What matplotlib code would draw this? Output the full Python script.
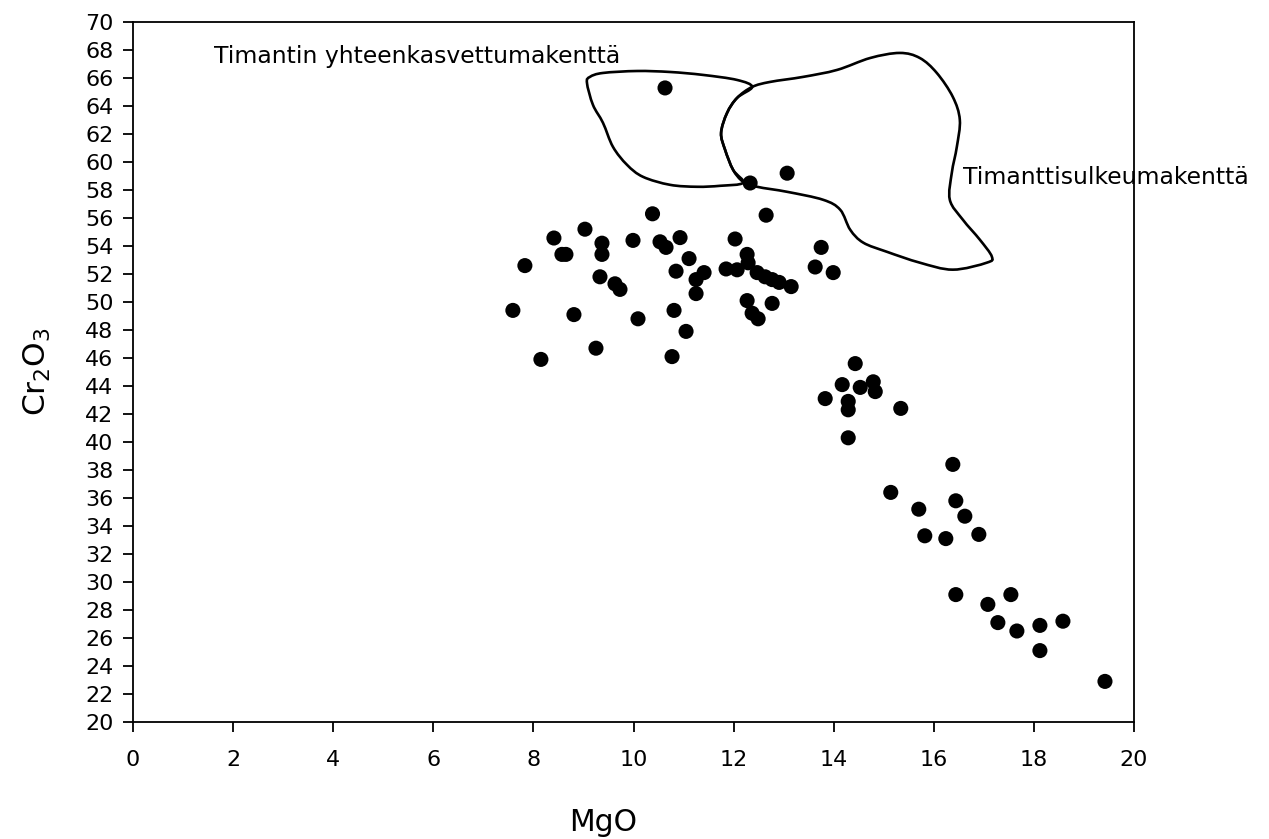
import matplotlib
matplotlib.use("Agg")
import matplotlib.pyplot as plt
from matplotlib.patches import PathPatch
from matplotlib.path import Path

# ---- data (MgO, Cr2O3) ----
mgo = [10.63, 13.07, 12.33, 10.38, 12.65,
       8.41, 9.03, 9.37, 9.37, 8.57, 8.65, 7.83, 9.99, 10.53, 10.65, 10.93,
       12.03, 11.11, 10.85, 11.41, 11.25, 11.25, 11.85, 12.07, 12.27, 12.29,
       12.47, 12.63, 12.77, 12.91, 13.15, 9.33, 9.63, 9.73, 7.59, 8.81,
       10.09, 10.81, 11.05, 8.15, 9.25, 10.77, 12.27, 12.37, 12.49, 12.77,
       13.75, 13.63, 13.99,
       14.43, 14.17, 14.53, 14.79, 14.83, 13.83, 14.29, 14.29, 15.34, 14.29,
       16.38, 15.14, 16.44, 15.70, 16.62, 15.82, 16.24, 16.90, 16.44, 17.54,
       17.08, 17.28, 17.66, 18.12, 18.58, 18.12, 19.42]
cr2o3 = [65.29, 59.2, 58.5, 56.3, 56.2,
         54.57, 55.2, 54.2, 53.4, 53.4, 53.4, 52.6, 54.4, 54.3, 53.9, 54.6,
         54.5, 53.1, 52.2, 52.1, 51.6, 50.6, 52.36, 52.3, 53.4, 52.8,
         52.1, 51.8, 51.6, 51.4, 51.1, 51.8, 51.3, 50.9, 49.4, 49.1,
         48.8, 49.4, 47.9, 45.9, 46.7, 46.1, 50.1, 49.2, 48.8, 49.9,
         53.9, 52.5, 52.1,
         45.6, 44.1, 43.9, 44.3, 43.6, 43.1, 42.9, 42.3, 42.4, 40.3,
         38.4, 36.4, 35.8, 35.2, 34.7, 33.3, 33.1, 33.4, 29.1, 29.1,
         28.4, 27.1, 26.5, 26.9, 27.2, 25.1, 22.9]

# field outlines (MgO, Cr2O3)
field1_mgo = [9.07, 9.13, 9.39, 10.07, 10.73, 11.39, 12.07, 12.37, 12.07, 11.87,
              11.75, 11.83, 11.99, 12.19, 11.73, 11.27, 10.73, 10.19, 9.87, 9.59,
              9.39, 9.19]
field1_cr = [65.65, 66.08, 66.36, 66.50, 66.43, 66.22, 65.86, 65.36, 64.58, 63.51,
             62.08, 60.87, 59.44, 58.52, 58.30, 58.23, 58.37, 58.94, 59.80, 61.08,
             62.80, 64.08]
field2_mgo = [12.37, 12.73, 13.39, 14.07, 14.73, 15.32, 15.72, 16.06, 16.38, 16.52,
              16.46, 16.36, 16.32, 16.58, 16.92, 17.16, 17.06, 16.38, 15.72, 15.06,
              14.59, 14.33, 14.13, 13.79, 13.07, 12.47, 12.19, 11.99, 11.83, 11.75,
              11.87, 12.07]
field2_cr = [65.36, 65.72, 66.08, 66.58, 67.43, 67.79, 67.43, 66.36, 64.65, 63.01,
             61.08, 59.23, 57.30, 55.88, 54.45, 53.24, 52.81, 52.31, 52.81, 53.59,
             54.24, 55.16, 56.59, 57.30, 57.87, 58.23, 58.59, 59.44, 60.87, 62.08,
             63.51, 64.58]

label1 = "Timantin yhteenkasvettumakenttä"
label2 = "Timanttisulkeumakenttä"
xticks = list(range(0, 21, 2))
yticks = list(range(20, 71, 2))


def smooth_closed_path(xs, ys, t=0.5):
    """Closed Catmull-Rom outline drawn as cubic Bezier segments."""
    n = len(xs)
    verts = [(xs[0], ys[0])]
    codes = [Path.MOVETO]
    for i in range(n):
        p0 = (xs[i - 1], ys[i - 1])
        p1 = (xs[i], ys[i])
        p2 = (xs[(i + 1) % n], ys[(i + 1) % n])
        p3 = (xs[(i + 2) % n], ys[(i + 2) % n])
        c1 = (p1[0] + (p2[0] - p0[0]) * t / 3, p1[1] + (p2[1] - p0[1]) * t / 3)
        c2 = (p2[0] - (p3[0] - p1[0]) * t / 3, p2[1] - (p3[1] - p1[1]) * t / 3)
        verts += [c1, c2, p2]
        codes += [Path.CURVE4] * 3
    return Path(verts, codes)


plt.rcParams['font.family'] = ['DejaVu Sans']
fig = plt.figure(figsize=(12.69, 8.39), dpi=100)
ax = fig.add_axes([133/1269, 1-722/839, 1001/1269, 700/839])

for fx, fy in ((field1_mgo, field1_cr), (field2_mgo, field2_cr)):
    ax.add_patch(PathPatch(smooth_closed_path(fx, fy), fill=False,
                           edgecolor='black', linewidth=1.9, zorder=2))

ax.scatter(mgo, cr2o3, s=118, color='black', edgecolors='none', zorder=3)

ax.text(1.62, 67.5, label1, fontsize=16.9, va='center', ha='left')
ax.text(16.58, 58.87, label2, fontsize=16.9, va='center', ha='left', clip_on=False, zorder=5)

ax.set_xlim(0, 20)
ax.set_ylim(20, 70)
ax.set_xticks(xticks)
ax.set_yticks(yticks)
ax.tick_params(axis='x', direction='out', length=7, width=1.3, pad=13, labelsize=16)
ax.tick_params(axis='y', direction='out', length=7, width=1.3, pad=7, labelsize=16)
for s in ax.spines.values():
    s.set_linewidth(1.3)

ax.set_xlabel('MgO', fontsize=21.5, va='center')
ax.xaxis.set_label_coords(0.4695, -0.143)
ax.set_ylabel('Cr$_2$O$_3$', fontsize=22.5, va='center', ha='center')
ax.yaxis.set_label_coords(-0.095, 0.5)

fig.savefig('out.png', dpi=100)
